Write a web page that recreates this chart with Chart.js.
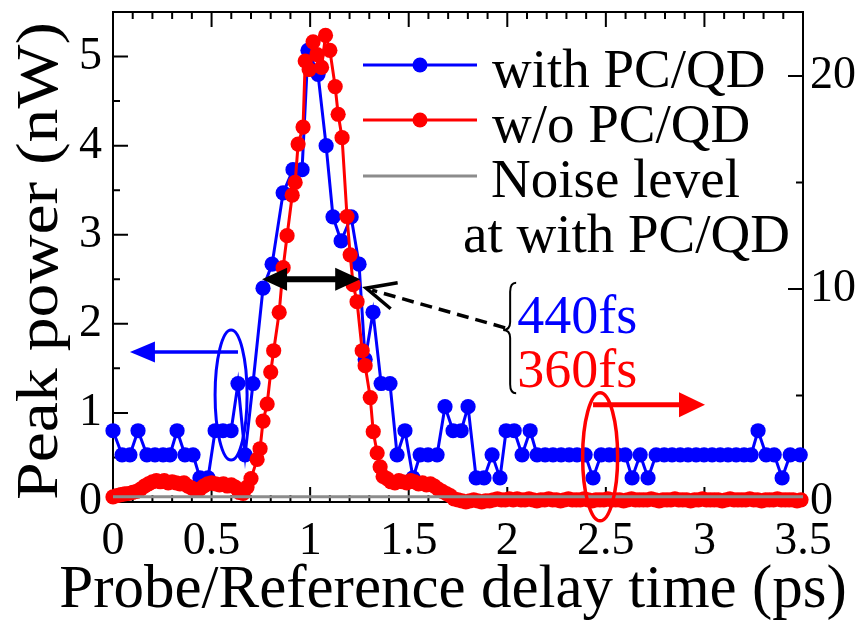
<!DOCTYPE html>
<html><head><meta charset="utf-8">
<script src="https://cdn.jsdelivr.net/npm/chart.js@4"></script>
<style>html,body{margin:0;padding:0;background:#fff}#wrap{width:862px;height:621px;position:relative}</style>
</head><body><div id="wrap"><canvas id="c" width="862" height="621"></canvas></div>
<script>
// ---- data ----
const blueX = [0.000,0.046,0.086,0.127,0.172,0.213,0.254,0.289,0.325,0.365,0.406,0.441,0.482,0.518,0.558,0.599,0.634,0.670,0.710,
  0.761,0.807,0.863,0.913,0.959,0.989,1.040,1.081,1.116,1.157,1.208,1.248,1.279,1.319,1.360,1.405,1.441,1.481,1.522,1.558,1.598,
  1.644,1.684,1.725,1.766,1.801,1.842,1.882,1.923,1.963,1.994,2.035,2.075,2.116,2.151,2.192,2.232,2.273,2.314,2.354,2.395,2.435,
  2.476,2.517,2.557,2.598,2.633,2.674,2.714,2.755,2.796,2.836,2.877,2.917,2.958,2.998,3.039,3.080,3.120,3.161,3.201,3.237,3.272,
  3.313,3.354,3.394,3.435,3.486];
const blueY = [0.80,0.53,0.53,0.80,0.53,0.53,0.53,0.53,0.80,0.53,0.53,0.27,0.27,0.80,0.80,0.80,1.33,0.53,1.33,
  2.40,2.67,3.47,3.73,3.73,5.07,4.80,4.00,3.20,2.93,3.20,2.67,1.60,2.13,1.33,1.33,0.53,0.80,0.27,0.53,0.53,
  0.53,1.07,0.80,0.80,1.07,0.27,0.27,0.53,0.27,0.80,0.80,0.53,0.80,0.53,0.53,0.53,0.53,0.53,0.53,0.53,0.27,
  0.53,0.53,0.53,0.53,0.27,0.53,0.27,0.53,0.53,0.53,0.53,0.53,0.53,0.53,0.53,0.53,0.53,0.53,0.53,0.53,0.80,
  0.53,0.53,0.27,0.53,0.53];
const redX = [0.00,0.02,0.04,0.06,0.08,0.10,0.12,0.14,0.16,0.18,0.20,0.22,0.24,0.26,0.28,0.30,0.32,0.34,0.36,0.38,
  0.40,0.42,0.44,0.46,0.48,0.50,0.52,0.54,0.56,0.58,0.60,0.62,0.64,0.66,0.68,0.70,
  0.731,0.746,0.761,0.782,0.800,0.815,0.843,0.863,0.883,0.909,0.924,0.939,0.964,0.975,0.995,1.015,1.035,1.058,1.078,1.100,
  1.127,1.142,1.162,1.187,1.203,1.218,1.238,1.264,1.279,1.305,1.320,1.340,1.355,1.370,
  1.39,1.41,1.43,1.45,1.47,1.49,1.51,1.53,1.55,1.57,1.59,1.61,1.63,1.65,1.67,1.69,1.71,1.73,1.75,
  1.77,1.79,1.81,1.83,1.85,1.87,1.89,1.91,1.93,1.95,1.97,1.99,2.01,2.03,2.05,2.07,2.09,2.11,2.13,2.15,
  2.17,2.19,2.21,2.23,2.25,2.27,2.29,2.31,2.33,2.35,2.37,2.39,2.41,2.43,2.45,2.47,2.49,2.51,2.53,2.55,
  2.57,2.59,2.61,2.63,2.65,2.67,2.69,2.71,2.73,2.75,2.77,2.79,2.81,2.83,2.85,2.87,2.89,2.91,2.93,2.95,
  2.97,2.99,3.01,3.03,3.05,3.07,3.09,3.11,3.13,3.15,3.17,3.19,3.21,3.23,3.25,3.27,3.29,3.31,3.33,3.35,
  3.37,3.39,3.41,3.43,3.45,3.47,3.49];
const redY = [0.24,0.30,0.35,0.38,0.40,0.45,0.50,0.60,0.75,0.85,0.95,1.00,0.95,1.00,0.90,0.95,0.90,0.85,0.90,0.75,
  0.65,0.55,0.60,0.75,0.85,0.90,0.85,0.80,0.85,0.75,0.80,0.70,0.45,0.40,0.70,1.10,
  2.0,2.5,3.8,4.6,6.1,7.1,8.9,11.0,12.5,14.4,15.0,16.8,17.6,20.7,20.3,21.6,21.0,20.4,21.9,21.2,
  19.5,18.2,17.1,13.4,11.6,10.2,9.4,7.1,6.4,4.9,3.3,2.3,1.65,1.2,
  1.10,0.95,0.90,1.00,0.95,0.90,1.00,0.95,0.85,0.90,0.80,0.85,0.75,0.60,0.50,0.40,0.30,0.15,0.10,
  0.05,0.00,0.05,0.10,0.05,0.00,0.05,0.05,0.10,0.15,0.10,0.10,0.15,0.10,0.15,0.10,0.10,0.15,0.10,0.05,
  0.10,0.10,0.15,0.10,0.10,0.05,0.10,0.15,0.10,0.10,0.10,0.15,0.10,0.05,0.10,0.10,0.10,0.15,0.10,0.10,
  0.10,0.05,0.10,0.15,0.10,0.10,0.10,0.10,0.15,0.10,0.05,0.10,0.10,0.10,0.15,0.10,0.10,0.10,0.05,0.10,
  0.10,0.15,0.10,0.10,0.10,0.10,0.05,0.10,0.15,0.10,0.10,0.10,0.10,0.15,0.10,0.10,0.05,0.10,0.10,0.10,
  0.15,0.10,0.10,0.10,0.10,0.05,0.10];
const noiseX = [0, 3.5];
const noiseY = [0.06, 0.06];
const xTicks = [0, 0.5, 1, 1.5, 2, 2.5, 3, 3.5];
const yLeftTicks = [0, 1, 2, 3, 4, 5];
const yRightTicks = [0, 10, 20];
const legendLabels = ['with PC/QD', 'w/o PC/QD', 'Noise level', 'at with PC/QD'];
const widthLabels = ['440fs', '360fs'];
const xTitle = 'Probe/Reference delay time (ps)';
const yTitle = 'Peak power (nW)';

// ---- styles ----
const F = '"Liberation Serif", "Times New Roman", serif';
const BLUE = '#0000ff', RED = '#ff0000', GRAY = '#8c8c8c';

const pts = (xs, ys) => xs.map((x, i) => ({x, y: ys[i]}));

const framePlugin = {
  id: 'frame',
  beforeDatasetsDraw(chart) {
    const {ctx, chartArea: a, scales: {x, y, y2}} = chart;
    ctx.save();
    ctx.strokeStyle = '#000';
    ctx.lineWidth = 2;
    ctx.strokeRect(a.left, a.top, a.right - a.left, a.bottom - a.top);
    ctx.beginPath();
    for (let k = 0; k <= 35; k++) {
      const px = x.getPixelForValue(k / 10), L = (k % 5 === 0) ? 15 : 7;
      ctx.moveTo(px, a.bottom); ctx.lineTo(px, a.bottom - L);
      ctx.moveTo(px, a.top); ctx.lineTo(px, a.top + L);
    }
    for (let k = 0; k <= 11; k++) {
      const py = y.getPixelForValue(k / 2), L = (k % 2 === 0) ? 15 : 7;
      ctx.moveTo(a.left, py); ctx.lineTo(a.left + L, py);
    }
    for (let k = 0; k <= 4; k++) {
      const py = y2.getPixelForValue(k * 5), L = (k % 2 === 0) ? 15 : 7;
      ctx.moveTo(a.right, py); ctx.lineTo(a.right - L, py);
    }
    ctx.stroke();
    ctx.restore();
  }
};

function head(ctx, tx, ty, ang, len, half) {
  ctx.beginPath();
  ctx.moveTo(tx, ty);
  ctx.lineTo(tx - len * Math.cos(ang) + half * Math.sin(ang), ty - len * Math.sin(ang) - half * Math.cos(ang));
  ctx.lineTo(tx - len * Math.cos(ang) - half * Math.sin(ang), ty - len * Math.sin(ang) + half * Math.cos(ang));
  ctx.closePath();
  ctx.fill();
}

const annPlugin = {
  id: 'ann',
  afterDatasetsDraw(chart) {
    const {ctx, scales: {x, y, y2}} = chart;
    const X = v => x.getPixelForValue(v), Y = v => y.getPixelForValue(v), Y2 = v => y2.getPixelForValue(v);
    ctx.save();
    // FWHM double arrow
    const ax1 = X(0.756), ax2 = X(1.254), ay = Y(2.5);
    ctx.fillStyle = '#000'; ctx.strokeStyle = '#000';
    ctx.lineWidth = 6;
    ctx.beginPath(); ctx.moveTo(ax1 + 20, ay); ctx.lineTo(ax2 - 20, ay); ctx.stroke();
    head(ctx, ax1, ay, Math.PI, 25, 11.5);
    head(ctx, ax2, ay, 0, 25, 11.5);
    // dashed pointer arrow
    const tx = X(1.284), ty = Y(2.40), ex = X(1.989), ey = Y(1.955);
    ctx.lineWidth = 3.5;
    ctx.setLineDash([12, 7]);
    ctx.beginPath(); ctx.moveTo(ex, ey); ctx.lineTo(tx + 6, ty + 2); ctx.stroke();
    ctx.setLineDash([]);
    const ang = Math.atan2(ey - ty, ex - tx);
    ctx.beginPath();
    ctx.moveTo(tx + 32 * Math.cos(ang - 0.45), ty + 32 * Math.sin(ang - 0.45));
    ctx.lineTo(tx, ty);
    ctx.lineTo(tx + 32 * Math.cos(ang + 0.42), ty + 32 * Math.sin(ang + 0.42));
    ctx.stroke();
    // brace
    const bx = X(1.979), bt = Y(2.46), bm = Y(1.93), bb = Y(1.22);
    ctx.lineWidth = 2;
    ctx.beginPath();
    ctx.moveTo(bx + 13, bt);
    ctx.quadraticCurveTo(bx + 7, bt, bx + 7, bt + 9);
    ctx.lineTo(bx + 7, bm - 8);
    ctx.quadraticCurveTo(bx + 7, bm, bx, bm);
    ctx.quadraticCurveTo(bx + 7, bm, bx + 7, bm + 8);
    ctx.lineTo(bx + 7, bb - 9);
    ctx.quadraticCurveTo(bx + 7, bb, bx + 13, bb);
    ctx.stroke();
    // width labels
    ctx.font = '54px ' + F;
    ctx.textBaseline = 'alphabetic';
    ctx.textAlign = 'left';
    ctx.fillStyle = BLUE; ctx.fillText(widthLabels[0], X(2.05), Y(1.90));
    ctx.fillStyle = RED; ctx.fillText(widthLabels[1], X(2.05), Y(1.29));
    // blue ellipse + arrow (left axis)
    ctx.strokeStyle = BLUE; ctx.fillStyle = BLUE; ctx.lineWidth = 3;
    ctx.beginPath(); ctx.ellipse(X(0.599), Y(1.2), 16, 65, 0, 0, Math.PI * 2); ctx.stroke();
    const bay = Y(1.685);
    ctx.lineWidth = 3.5;
    ctx.beginPath(); ctx.moveTo(X(0.634), bay); ctx.lineTo(X(0.086) + 20, bay); ctx.stroke();
    head(ctx, X(0.086), bay, Math.PI, 25, 10.5);
    // red ellipse + arrow (right axis)
    ctx.strokeStyle = RED; ctx.fillStyle = RED; ctx.lineWidth = 3.5;
    ctx.beginPath(); ctx.ellipse(X(2.471), Y2(2.12), 17.5, 64, 0, 0, Math.PI * 2); ctx.stroke();
    const ray = Y2(4.56);
    ctx.lineWidth = 5;
    ctx.beginPath(); ctx.moveTo(X(2.435), ray); ctx.lineTo(X(3.003) - 20, ray); ctx.stroke();
    head(ctx, X(3.003), ray, 0, 26, 12.5);
    ctx.restore();
  },
  afterDraw(chart) {
    const {ctx} = chart;
    ctx.save();
    // legend
    const rows = [[BLUE, 65, true], [RED, 120, true], [GRAY, 176, false]];
    rows.forEach(([c, ly, mk]) => {
      ctx.strokeStyle = c; ctx.lineWidth = 3;
      ctx.beginPath(); ctx.moveTo(363, ly); ctx.lineTo(477, ly); ctx.stroke();
      if (mk) { ctx.fillStyle = c; ctx.beginPath(); ctx.arc(420, ly, 7.5, 0, Math.PI * 2); ctx.fill(); }
    });
    ctx.fillStyle = '#000';
    ctx.font = '55px ' + F;
    ctx.textAlign = 'left'; ctx.textBaseline = 'alphabetic';
    ctx.fillText(legendLabels[0], 492, 87);
    ctx.fillText(legendLabels[1], 492, 142);
    ctx.fillText(legendLabels[2], 491, 197);
    ctx.fillText(legendLabels[3], 463, 252);
    // axis titles
    ctx.textAlign = 'center';
    ctx.font = '61px ' + F;
    ctx.fillText(xTitle, 453, 607);
    ctx.save();
    ctx.font = '60px ' + F;
    ctx.translate(57, 261);
    ctx.rotate(-Math.PI / 2);
    const w = ctx.measureText(yTitle).width;
    ctx.scale(478 / w, 1);
    ctx.fillText(yTitle, 0, 0);
    ctx.restore();
    ctx.restore();
  }
};

const tickFont = {family: F, size: 46};
const noPad = s => { s.paddingTop = 0; s.paddingBottom = 0; s.paddingLeft = 0; s.paddingRight = 0; };
new Chart(document.getElementById('c'), {
  type: 'line',
  data: {
    datasets: [
      {label: 'Noise level', data: pts(noiseX, noiseY), yAxisID: 'y', borderColor: GRAY, borderWidth: 3,
       pointRadius: 0, order: 0, clip: false},
      {label: 'w/o PC/QD', data: pts(redX, redY), yAxisID: 'y2', borderColor: RED, backgroundColor: RED,
       borderWidth: 3, pointRadius: 7.6, pointBorderWidth: 0, pointBackgroundColor: RED, order: 1, clip: false},
      {label: 'with PC/QD', data: pts(blueX, blueY), yAxisID: 'y', borderColor: BLUE, backgroundColor: BLUE,
       borderWidth: 3, pointRadius: 7.6, pointBorderWidth: 0, pointBackgroundColor: BLUE, order: 2, clip: false}
    ]
  },
  options: {
    responsive: false, animation: false, events: [],
    layout: {padding: {top: 12, left: 0, right: 0, bottom: 0}},
    plugins: {legend: {display: false}, tooltip: {enabled: false}},
    scales: {
      x: {type: 'linear', min: 0, max: 3.5,
        grid: {display: false, drawTicks: false}, border: {display: false},
        afterBuildTicks: s => { s.ticks = xTicks.map(v => ({value: v})); },
        afterFit: s => { s.height = 119; noPad(s); },
        ticks: {font: tickFont, color: '#000', padding: 12, autoSkip: false, maxRotation: 0, minRotation: 0,
                callback: v => String(v)}
      },
      y: {type: 'linear', position: 'left', min: 0, max: 5.5,
        grid: {display: false, drawTicks: false}, border: {display: false},
        afterBuildTicks: s => { s.ticks = yLeftTicks.map(v => ({value: v})); },
        afterFit: s => { s.width = 113; noPad(s); },
        ticks: {font: tickFont, color: '#000', padding: 11, callback: v => String(v)}
      },
      y2: {type: 'linear', position: 'right', min: 0, max: 23,
        grid: {display: false, drawTicks: false}, border: {display: false},
        afterBuildTicks: s => { s.ticks = yRightTicks.map(v => ({value: v})); },
        afterFit: s => { s.width = 59; noPad(s); },
        ticks: {font: tickFont, color: '#000', padding: 7, callback: v => String(v)}
      }
    }
  },
  plugins: [framePlugin, annPlugin]
});
</script></body></html>
